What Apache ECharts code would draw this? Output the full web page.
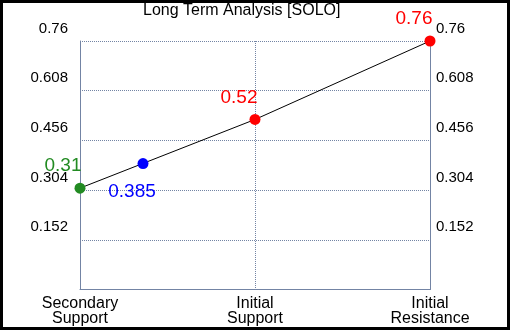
<!DOCTYPE html>
<html>
<head>
<meta charset="utf-8">
<script src="https://cdn.jsdelivr.net/npm/echarts@6/dist/echarts.min.js"></script>
<style>
  html, body { margin: 0; padding: 0; background: #000; }
  #chart { width: 504px; height: 324px; border: 3px solid #000; background: #fff; }
</style>
</head>
<body>
<div id="chart"></div>
<script>
const categories = ['Secondary\nSupport', 'Initial\nSupport', 'Initial\nResistance'];
const levels = [0.31, 0.52, 0.76];
const levelColors = ['#228b22', '#ff0000', '#ff0000'];
const current = 0.385;
const currentPos = 0.36;
const yTicks = [0.152, 0.304, 0.456, 0.608, 0.76];

const el = document.getElementById('chart');
const chart = echarts.init(el);
const axisColor = '#7384a4';
const font = 'Liberation Sans, Arial, sans-serif';

const yAxisBase = {
  type: 'value', min: 0, max: yTicks[yTicks.length - 1], interval: yTicks[0],
  axisLine: { show: true, lineStyle: { color: axisColor } },
  axisTick: { show: false },
  axisLabel: {
    showMinLabel: false, color: '#000', fontFamily: font, fontSize: 15,
    verticalAlign: 'bottom', padding: [0, 0, 5, 0],
    formatter: v => String(parseFloat(v.toFixed(3)))
  }
};

const levelPoints = levels.map((v, i) => ({
  value: [i, v],
  itemStyle: { color: levelColors[i], opacity: 1 },
  label: { color: levelColors[i] }
}));
const labelOffsets = [[-17, -22], [-16, -22], [-16, -22]];
levelPoints.forEach((p, i) => { p.label.offset = labelOffsets[i]; });

chart.setOption({
  animation: false,
  title: {
    text: 'Long Term Analysis [SOLO]', left: 135, top: -5,
    textStyle: { fontFamily: font, fontSize: 16, fontWeight: 'normal', color: '#000' }
  },
  grid: { left: 77, right: 77, top: 38, bottom: 37 },
  xAxis: {
    type: 'value', min: 0, max: 2, interval: 1,
    axisLine: { show: true, lineStyle: { color: axisColor } },
    axisTick: { show: false },
    splitLine: { show: true, lineStyle: { color: axisColor, type: 'dotted' } },
    axisLabel: {
      color: '#000', fontFamily: font, fontSize: 16, lineHeight: 15, margin: 7,
      formatter: v => categories[v] || ''
    }
  },
  yAxis: [
    Object.assign({}, yAxisBase, {
      position: 'left',
      splitLine: { show: true, lineStyle: { color: axisColor, type: 'dotted' } },
      axisLabel: Object.assign({}, yAxisBase.axisLabel, { margin: 12 })
    }),
    Object.assign({}, yAxisBase, {
      position: 'right',
      splitLine: { show: false },
      axisLabel: Object.assign({}, yAxisBase.axisLabel, { margin: 6 })
    })
  ],
  series: [
    {
      type: 'line', data: levels.map((v, i) => [i, v]),
      symbol: 'none', lineStyle: { color: '#000', width: 1 }, z: 2
    },
    {
      type: 'scatter', symbolSize: 11, z: 3,
      label: { show: true, position: 'inside', fontFamily: font, fontSize: 19, formatter: p => String(p.value[1]) },
      data: levelPoints.concat([{
        value: [currentPos, current],
        itemStyle: { color: '#0000ff', opacity: 1 },
        label: { color: '#0000ff', offset: [-11, 28] }
      }])
    }
  ]
});
</script>
</body>
</html>
